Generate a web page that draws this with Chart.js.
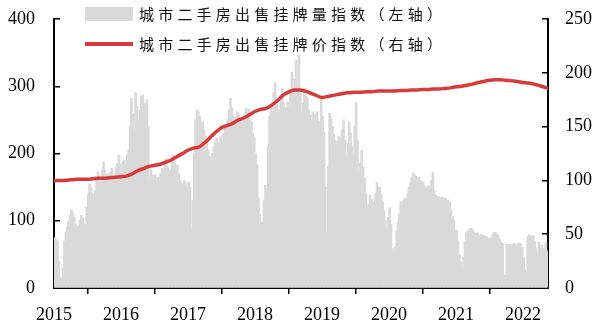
<!DOCTYPE html>
<html><head><meta charset="utf-8">
<script src="https://cdn.jsdelivr.net/npm/chart.js@4/dist/chart.umd.min.js"></script>
<style>html,body{margin:0;padding:0;background:#fff}canvas{display:block}</style>
</head><body>
<canvas id="c" width="601" height="328"></canvas>
<script>
// Data
const startYear = 2015;
const endYear = 2022.375;
const yearTicks = [2015, 2016, 2017, 2018, 2019, 2020, 2021, 2022];
const leftTicks = [0, 100, 200, 300, 400];
const rightTicks = [0, 50, 100, 150, 200, 250];
const seriesNames = ['城市二手房出售挂牌量指数（左轴）', '城市二手房出售挂牌价指数（右轴）'];

// listing-volume index, ~4 values per month, Jan 2015 .. mid May 2022 (left axis)
const volume2015 = [75,72,70,40,15,12,30,70,83,90,100,108,116,112,105,95,88,92,100,108,104,96,94,120,140,155,150,140,134,145,160,172,165,157,175,187,175,168,170,165,172,178,160,165,180,185,198,185];
const volume2016 = [178,188,190,185,198,205,240,282,260,232,291,270,250,265,285,287,260,275,280,240,164,175,168,160,168,158,165,160,170,178,175,185,193,180,172,175,190,198,185,175,183,170,160,155,153,160,155,153];
const volume2017 = [157,150,89,130,200,250,265,262,255,240,247,235,225,217,205,195,193,200,210,217,223,215,217,225,218,230,242,238,250,265,282,268,257,250,255,262,258,250,245,242,255,268,260,266,250,247,230,223];
const volume2018 = [200,183,134,110,97,98,130,153,145,210,255,272,262,291,305,280,257,265,285,297,275,262,268,276,270,295,321,290,310,339,300,346,290,262,275,297,285,282,265,257,250,262,253,258,262,248,242,282];
const volume2019 = [255,232,150,83,180,260,253,240,228,220,213,218,225,215,235,250,220,198,215,247,230,210,198,240,276,220,172,185,205,180,164,140,119,125,138,132,125,128,140,157,150,149,138,128,115,100,89,105];
const volume2020 = [119,95,59,54,60,85,98,110,128,125,130,134,132,140,150,157,165,171,168,166,162,165,160,157,158,152,149,150,152,148,160,172,145,138,135,136,134,133,135,132,134,130,131,128,115,106,100,86];
const volume2021 = [86,70,49,39,30,46,70,82,85,86,89,88,85,82,80,82,78,79,80,77,78,75,76,74,72,74,80,83,82,80,78,72,68,66,19,15,65,64,65,63,64,66,65,64,66,67,65,60];
const volume2022 = [46,27,24,76,79,78,76,78,70,59,52,68,60,64,59,56,68,55];

// listing-price index, monthly, Jan 2015 .. Jun 2022 (right axis)
const price2015 = [100,100,100,100.5,101,101,101,101.5,102,102,102.5,103];
const price2016 = [103.5,104,106,109,111,113,114,115,117,119,122,125];
const price2017 = [128,130,131,135,140,145,149,151,153,156,158,161];
const price2018 = [164,166,167,170,174,179,182,184,184,183,181,179];
const price2019 = [177,178,179,180,181,181.5,182,182,182.5,182.5,183,183];
const price2020 = [183,183,183.5,183.5,184,184,184.5,184.5,185,185,185.5,186];
const price2021 = [187,187.5,188.5,189.5,191,192,193,193.5,193.5,193,192.5,192];
const price2022 = [191,190.5,189.5,188,186.5,185];

const volume = [].concat(volume2015, volume2016, volume2017, volume2018, volume2019, volume2020, volume2021, volume2022);
const price = [].concat(price2015, price2016, price2017, price2018, price2019, price2020, price2021, price2022);

const volumePts = volume.map((v, i) => ({x: startYear + (i + 0.5) / 48, y: v}));
const pricePts = price.map((v, i) => ({x: startYear + i / 12, y: v}));

const RED = '#d83a3b';
const GRAY = '#d9d9d9';
const tickFont = {family: "'Liberation Serif','Times New Roman',serif", size: 18};

const legendPlugin = {
  id: 'customLegend',
  afterDraw(chart) {
    const ctx = chart.ctx;
    ctx.save();
    ctx.fillStyle = GRAY;
    ctx.fillRect(85, 7, 48, 14);
    ctx.strokeStyle = RED;
    ctx.lineWidth = 4;
    ctx.beginPath(); ctx.moveTo(85, 44); ctx.lineTo(133, 44); ctx.stroke();
    ctx.fillStyle = '#111';
    ctx.font = "15px 'Noto Sans CJK SC'";
    ctx.textBaseline = 'middle';
    ctx.textAlign = 'left';
    const rows = [14, 44];
    seriesNames.forEach((name, r) => {
      let x = 139;
      for (const ch of name) { ctx.fillText(ch, x, rows[r]); x += 19.2; }
    });
    ctx.restore();
  }
};

const fitY = w => s => { s.width = w; s.paddingTop = 0; s.paddingBottom = 0; };

new Chart(document.getElementById('c'), {
  type: 'bar',
  data: {
    datasets: [
      {type: 'line', label: seriesNames[1], data: pricePts, yAxisID: 'y1', borderColor: RED, borderWidth: 3.5,
       pointRadius: 0, cubicInterpolationMode: 'monotone', order: 0},
      {type: 'bar', label: seriesNames[0], data: volumePts, yAxisID: 'y', backgroundColor: GRAY, borderWidth: 0,
       barThickness: 2, order: 1}
    ]
  },
  options: {
    responsive: false,
    animation: false,
    devicePixelRatio: 1,
    layout: {padding: {top: 19, left: 0, right: 0, bottom: 0}},
    plugins: {legend: {display: false}, tooltip: {enabled: false}},
    scales: {
      x: {
        type: 'linear', min: startYear, max: endYear, offset: false,
        afterBuildTicks: s => { s.ticks = yearTicks.map(v => ({value: v})); },
        afterFit: s => { s.height = 40; s.paddingLeft = 0; s.paddingRight = 0; },
        ticks: {font: tickFont, color: '#000', padding: 10, maxRotation: 0, autoSkip: false, callback: v => String(v)},
        grid: {drawOnChartArea: false, drawTicks: true, tickLength: 6, color: '#000', lineWidth: 1.5},
        border: {display: true, color: '#000', width: 2}
      },
      y: {
        position: 'left', min: 0, max: 400,
        afterBuildTicks: s => { s.ticks = leftTicks.map(v => ({value: v})); },
        afterFit: fitY(54),
        ticks: {font: tickFont, color: '#000', padding: 25},
        grid: {drawOnChartArea: false, drawTicks: true, tickLength: -6, color: '#000', lineWidth: 1.5},
        border: {display: true, color: '#000', width: 2}
      },
      y1: {
        position: 'right', min: 0, max: 250,
        afterBuildTicks: s => { s.ticks = rightTicks.map(v => ({value: v})); },
        afterFit: fitY(53),
        ticks: {font: tickFont, color: '#000', padding: 23},
        grid: {drawOnChartArea: false, drawTicks: true, tickLength: -6, color: '#000', lineWidth: 1.5},
        border: {display: true, color: '#000', width: 2}
      }
    }
  },
  plugins: [legendPlugin]
});
</script>
</body></html>
